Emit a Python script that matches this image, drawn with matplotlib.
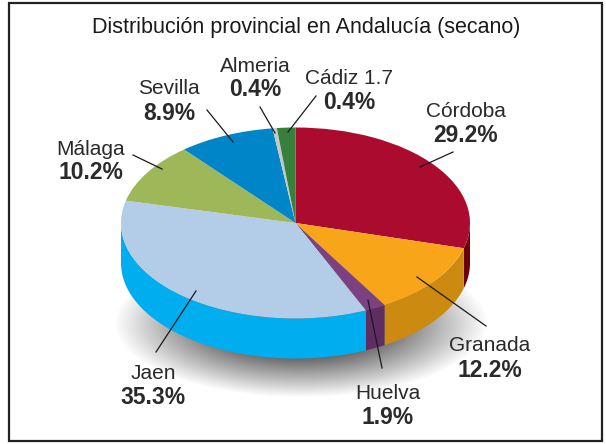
import numpy as np
import matplotlib
matplotlib.use("Agg")
from matplotlib import pyplot as plt
from matplotlib.patches import Ellipse, Rectangle

# ---- data ----
provinces = ["Córdoba", "Granada", "Huelva", "Jaen", "Málaga", "Sevilla", "Almeria", "Cádiz 1.7"]
shares = [29.2, 12.2, 1.9, 35.3, 10.2, 8.9, 0.4, 1.7]
shareLabels = ["29.2%", "12.2%", "1.9%", "35.3%", "10.2%", "8.9%", "0.4%", "0.4%"]
title = "Distribución provincial en Andalucía (secano)"

topColors = ["#ab0b2e", "#f9a51a", "#7b4181", "#b3cde9", "#9db759", "#0085c8", "#c4c8c8", "#36803b"]
sideColors = ["#6d0000", "#cd8a10", "#5e2e62", "#00aeef", "#9db759", "#0085c8", "#c4c8c8", "#36803b"]

# label centres (x, name y, share y) and leader lines, in pixels
labelPos = [(466, 111, 135), (490, 345, 370), (388, 393, 417), (153, 373, 397),
            (91, 149, 172), (169, 89, 113), (255, 67, 90), (349, 78, 102)]
leaders = [((453, 152), (420, 167)), ((417, 277), (486, 326)), ((368, 300), (382, 368)),
           ((196, 291), (156, 352)), ((133, 155), (162, 169)), ((207, 110), (233, 142)),
           ((260, 107), (275, 133)), ((316, 96), (288, 132))]

W, H = 606, 444
textFont = ["Liberation Sans", "DejaVu Sans"]
textColor = "#2a2a2a"

fig = plt.figure(figsize=(W/100, H/100), dpi=100, facecolor="white")

# ---- shadow under the pie ----
back = fig.add_axes([0, 0, 1, 1], zorder=0)
back.set_xlim(0, W)
back.set_ylim(H, 0)
back.axis("off")
for s in np.linspace(1, 0.45, 40):
    level = 1 - 0.62*(1 - s)/0.55
    back.add_patch(Ellipse((301, 323), 2*188*s, 2*75*s, facecolor=(level, level, level), edgecolor="none"))

# ---- pie: unit circle squeezed into the top ellipse ----
left, right, top, bottom = 121, 470, 127.5, 318.5
pieAx = fig.add_axes([left/W, 1 - bottom/H, (right - left)/W, (bottom - top)/H], zorder=1)
depth = 40/((bottom - top)/2)

# side wall first, only the part facing the viewer (90 to 270 deg clockwise from top)
edges = np.concatenate([[0], np.cumsum(shares)])/np.sum(shares)*360
for i in range(len(shares)):
    a0, a1 = max(edges[i], 90), min(edges[i + 1], 270)
    if a1 <= a0:
        continue
    t = np.radians(np.linspace(a0, a1, 80))
    x = np.sin(t)
    y = np.cos(t)
    pieAx.fill(np.r_[x, x[::-1]], np.r_[y, y[::-1] - depth], color=sideColors[i], lw=0, clip_on=False)

wedges, _ = pieAx.pie(shares, colors=topColors, startangle=90, counterclock=False, radius=1,
                      wedgeprops={"linewidth": 0, "edgecolor": "none"})
pieAx.set_aspect("auto")
pieAx.set_xlim(-1, 1)
pieAx.set_ylim(-1, 1)
pieAx.axis("off")
for w in wedges:
    w.set_clip_on(False)

# ---- frame, leaders and text ----
front = fig.add_axes([0, 0, 1, 1], zorder=2)
front.set_xlim(0, W)
front.set_ylim(H, 0)
front.axis("off")
front.add_patch(Rectangle((9, 3), 593, 438, fill=False, edgecolor="#222222", lw=1.6))

front.text(306, 27, title, ha="center", va="center", fontsize=15.5, color="#1a1a1a", family=textFont)
for i in range(len(provinces)):
    (x0, y0), (x1, y1) = leaders[i]
    front.plot([x0, x1], [y0, y1], color="#1a1a1a", lw=0.9)
    cx, yName, yShare = labelPos[i]
    front.text(cx, yName, provinces[i], ha="center", va="center", fontsize=15, color=textColor, family=textFont)
    front.text(cx, yShare, shareLabels[i], ha="center", va="center", fontsize=16.5, fontweight="bold", color=textColor, family=textFont)

fig.savefig("out.png", dpi=100)
